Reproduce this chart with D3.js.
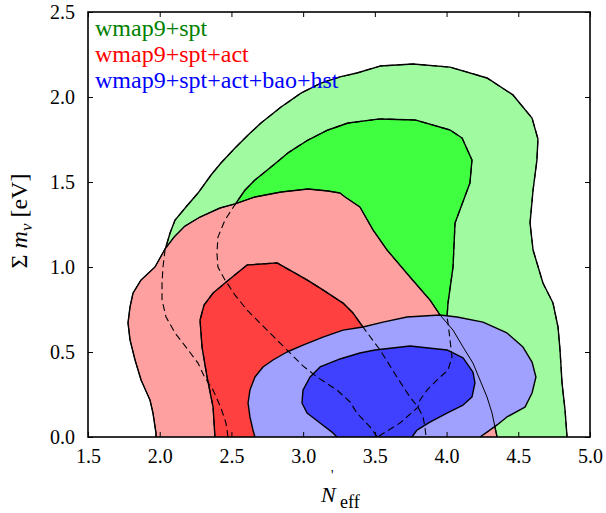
<!DOCTYPE html>
<html>
<head>
<meta charset="utf-8">
<script src="https://cdn.jsdelivr.net/npm/d3@7"></script>
<style>
  html, body { margin: 0; padding: 0; background: #fff; }
  svg { display: block; font-family: "Liberation Serif", "DejaVu Serif", serif; }
</style>
</head>
<body>
<svg id="chart" width="606" height="513"></svg>
<script>
// Contour outlines in data units: [N_eff', sum of neutrino masses (eV)].
// Each outline starts and ends on the m = 0 axis.
const wmapSpt95 = [
  [2.476,0],[2.462,0.082],[2.427,0.171],[2.372,0.276],[2.309,0.359],[2.267,0.435],
  [2.183,0.529],[2.107,0.612],[2.044,0.706],[2.016,0.806],[2.016,0.906],[2.023,1.0],
  [2.037,1.100],[2.072,1.200],[2.107,1.276],[2.183,1.353],[2.267,1.435],[2.358,1.541],
  [2.427,1.612],[2.525,1.700],[2.616,1.776],[2.706,1.847],[2.846,1.941],[2.985,2.023],
  [3.124,2.082],[3.257,2.118],[3.375,2.141],[3.536,2.182],[3.766,2.194],[4.024,2.176],
  [4.282,2.112],[4.463,2.012],[4.596,1.876],[4.637,1.753],[4.630,1.629],[4.603,1.453],
  [4.582,1.259],[4.603,1.100],[4.672,0.906],[4.742,0.788],[4.777,0.647],[4.791,0.512],
  [4.805,0.318],[4.826,0.159],[4.840,0]
];
const wmapSpt68 = [
  [3.518,0],[3.466,0.059],[3.375,0.141],[3.327,0.206],[3.236,0.276],[3.097,0.353],
  [2.999,0.418],[2.887,0.512],[2.748,0.629],[2.609,0.747],[2.525,0.835],[2.455,0.924],
  [2.406,1.0],[2.399,1.082],[2.406,1.176],[2.455,1.276],[2.532,1.376],[2.595,1.453],
  [2.664,1.512],[2.776,1.588],[2.894,1.671],[3.034,1.747],[3.173,1.806],[3.313,1.847],
  [3.536,1.871],[3.780,1.865],[4.024,1.806],[4.108,1.759],[4.177,1.629],[4.163,1.494],
  [4.059,1.259],[4.045,1.0],[4.010,0.788],[4.003,0.706],[4.010,0.671],[4.024,0.571],
  [4.038,0.471],[4.010,0.394],[3.933,0.335],[3.864,0.276],[3.815,0.218],[3.801,0.176],
  [3.675,0.082],[3.518,0]
];
const wmapSptAct95 = [
  [1.974,0],[1.974,0.024],[1.953,0.141],[1.932,0.218],[1.870,0.335],[1.828,0.453],
  [1.793,0.571],[1.779,0.671],[1.793,0.765],[1.814,0.847],[1.870,0.924],[1.967,1.0],
  [2.037,1.106],[2.100,1.176],[2.176,1.241],[2.281,1.294],[2.420,1.347],[2.525,1.371],
  [2.664,1.412],[2.846,1.441],[3.034,1.459],[3.173,1.447],[3.257,1.435],[3.292,1.412],
  [3.396,1.353],[3.487,1.218],[3.585,1.100],[3.745,0.941],[3.884,0.806],[3.954,0.718],
  [4.045,0.629],[4.115,0.529],[4.184,0.435],[4.233,0.335],[4.282,0.235],[4.317,0.141],
  [4.352,0]
];
const wmapSptAct68 = [
  [2.385,0],[2.372,0.176],[2.330,0.353],[2.295,0.529],[2.281,0.688],[2.309,0.776],
  [2.372,0.847],[2.455,0.906],[2.609,1.012],[2.818,1.024],[3.027,0.924],[3.138,0.865],
  [3.278,0.788],[3.348,0.729],[3.417,0.647],[3.536,0.512],[3.654,0.353],[3.745,0.235],
  [3.801,0.176],[3.836,0.118],[3.850,0.053],[3.857,0]
];
const fullSet95 = [
  [2.664,0],[2.650,0.041],[2.629,0.118],[2.616,0.200],[2.629,0.276],[2.664,0.353],
  [2.720,0.412],[2.790,0.453],[2.887,0.500],[2.999,0.541],[3.138,0.588],[3.278,0.629],
  [3.417,0.647],[3.557,0.676],[3.724,0.706],[3.954,0.718],[4.073,0.706],[4.254,0.676],
  [4.421,0.612],[4.533,0.529],[4.596,0.441],[4.623,0.353],[4.596,0.259],[4.547,0.176],
  [4.421,0.118],[4.352,0.071],[4.282,0.029],[4.233,0]
];
const fullSet68 = [
  [3.236,0],[3.208,0.024],[3.118,0.082],[3.027,0.141],[2.992,0.200],[2.999,0.276],
  [3.048,0.353],[3.118,0.412],[3.257,0.459],[3.396,0.494],[3.501,0.512],[3.745,0.535],
  [4.003,0.512],[4.115,0.465],[4.184,0.382],[4.198,0.318],[4.177,0.235],[4.115,0.188],
  [4.003,0.141],[3.884,0.088],[3.794,0.041],[3.759,0]
];

const xTicks = [1.5, 2.0, 2.5, 3.0, 3.5, 4.0, 4.5, 5.0];
const yTicks = [0.0, 0.5, 1.0, 1.5, 2.0, 2.5];
const legendLabels = ["wmap9+spt", "wmap9+spt+act", "wmap9+spt+act+bao+hst"];
const legendColors = ["#008000", "#ff0000", "#0000ff"];

const width = 606, height = 513;
const margin = {left: 88, right: 16, top: 12, bottom: 76};

const svg = d3.select("#chart");
const x = d3.scaleLinear().domain([1.5, 5.0]).range([margin.left, width - margin.right]);
const y = d3.scaleLinear().domain([0, 2.5]).range([height - margin.bottom, margin.top]);

const line = d3.line().x(d => x(d[0])).y(d => y(d[1]));

svg.append("defs").append("clipPath").attr("id", "plot-clip")
  .append("rect")
  .attr("x", x(1.5)).attr("y", y(2.5))
  .attr("width", x(5.0) - x(1.5)).attr("height", y(0) - y(2.5));

const plot = svg.append("g").attr("clip-path", "url(#plot-clip)");

// Filled confidence regions, outer before inner, one data set over the next
const regions = [
  {pts: wmapSpt95,    fill: "#a0fba0"},
  {pts: wmapSpt68,    fill: "#40ff40"},
  {pts: wmapSptAct95, fill: "#ffa0a0"},
  {pts: wmapSptAct68, fill: "#ff4040"},
  {pts: fullSet95,    fill: "#a0a0ff"},
  {pts: fullSet68,    fill: "#4040ff"}
];
regions.forEach(r => {
  plot.append("path")
    .attr("d", line(r.pts) + "Z")
    .attr("fill", r.fill)
    .attr("stroke", "none");
  plot.append("path")
    .attr("d", line(r.pts))
    .attr("fill", "none")
    .attr("stroke", "#000")
    .attr("stroke-width", 1.4)
    .attr("stroke-linejoin", "round");
});

// Outlines of the covered regions, traced over the later fills
[wmapSpt95, wmapSpt68, wmapSptAct68].forEach(pts => {
  plot.append("path")
    .attr("d", line(pts))
    .attr("fill", "none")
    .attr("stroke", "#000")
    .attr("stroke-width", 1.1)
    .attr("stroke-dasharray", "7,4");
});
plot.append("path")
  .attr("d", line(wmapSptAct95))
  .attr("fill", "none")
  .attr("stroke", "#000")
  .attr("stroke-width", 1.0);

// Axes: inward ticks on all four sides
const fmt = d3.format(".1f");
const axB = svg.append("g").attr("transform", `translate(0,${y(0)})`)
  .call(d3.axisBottom(x).tickValues(xTicks).tickFormat(fmt).tickSizeInner(-5).tickSizeOuter(0).tickPadding(12));
const axT = svg.append("g").attr("transform", `translate(0,${y(2.5)})`)
  .call(d3.axisTop(x).tickValues(xTicks).tickFormat("").tickSizeInner(-5).tickSizeOuter(0));
const axL = svg.append("g").attr("transform", `translate(${x(1.5)},0)`)
  .call(d3.axisLeft(y).tickValues(yTicks).tickFormat(fmt).tickSizeInner(-5).tickSizeOuter(0).tickPadding(13));
const axR = svg.append("g").attr("transform", `translate(${x(5.0)},0)`)
  .call(d3.axisRight(y).tickValues(yTicks).tickFormat("").tickSizeInner(-5).tickSizeOuter(0));

[axB, axT, axL, axR].forEach(g => {
  g.select(".domain").remove();
  g.selectAll(".tick line").attr("stroke", "#000").attr("stroke-width", 1);
  g.selectAll(".tick text")
    .attr("fill", "#000")
    .style("font-family", "'Liberation Serif', serif")
    .style("font-size", "20px");
});

svg.append("rect")
  .attr("x", x(1.5)).attr("y", y(2.5))
  .attr("width", x(5.0) - x(1.5)).attr("height", y(0) - y(2.5))
  .attr("fill", "none").attr("stroke", "#000").attr("stroke-width", 1.6);

// Legend
svg.append("g").selectAll("text").data(legendLabels).join("text")
  .attr("x", 95)
  .attr("y", (d, i) => 36 + i * 26)
  .attr("fill", (d, i) => legendColors[i])
  .style("font-size", "24px")
  .text(d => d);

// X axis title: N'_eff
const xt = svg.append("g").style("font-size", "22px");
xt.append("text").attr("x", 321).attr("y", 502).style("font-style", "italic").text("N");
xt.append("text").attr("x", 331).attr("y", 480).style("font-size", "14px").text("'");
xt.append("text").attr("x", 340).attr("y", 508).style("font-size", "18px").text("eff");

// Y axis title: Σ m_ν [eV]
const yt = svg.append("text")
  .attr("transform", "translate(27,221) rotate(-90)")
  .attr("text-anchor", "middle")
  .style("font-size", "24px");
yt.append("tspan").text("Σ ");
yt.append("tspan").style("font-style", "italic").text("m");
yt.append("tspan").style("font-style", "italic").style("font-size", "17px").attr("dy", 5).text("ν");
yt.append("tspan").attr("dy", -5).text(" [eV]");
</script>
</body>
</html>
